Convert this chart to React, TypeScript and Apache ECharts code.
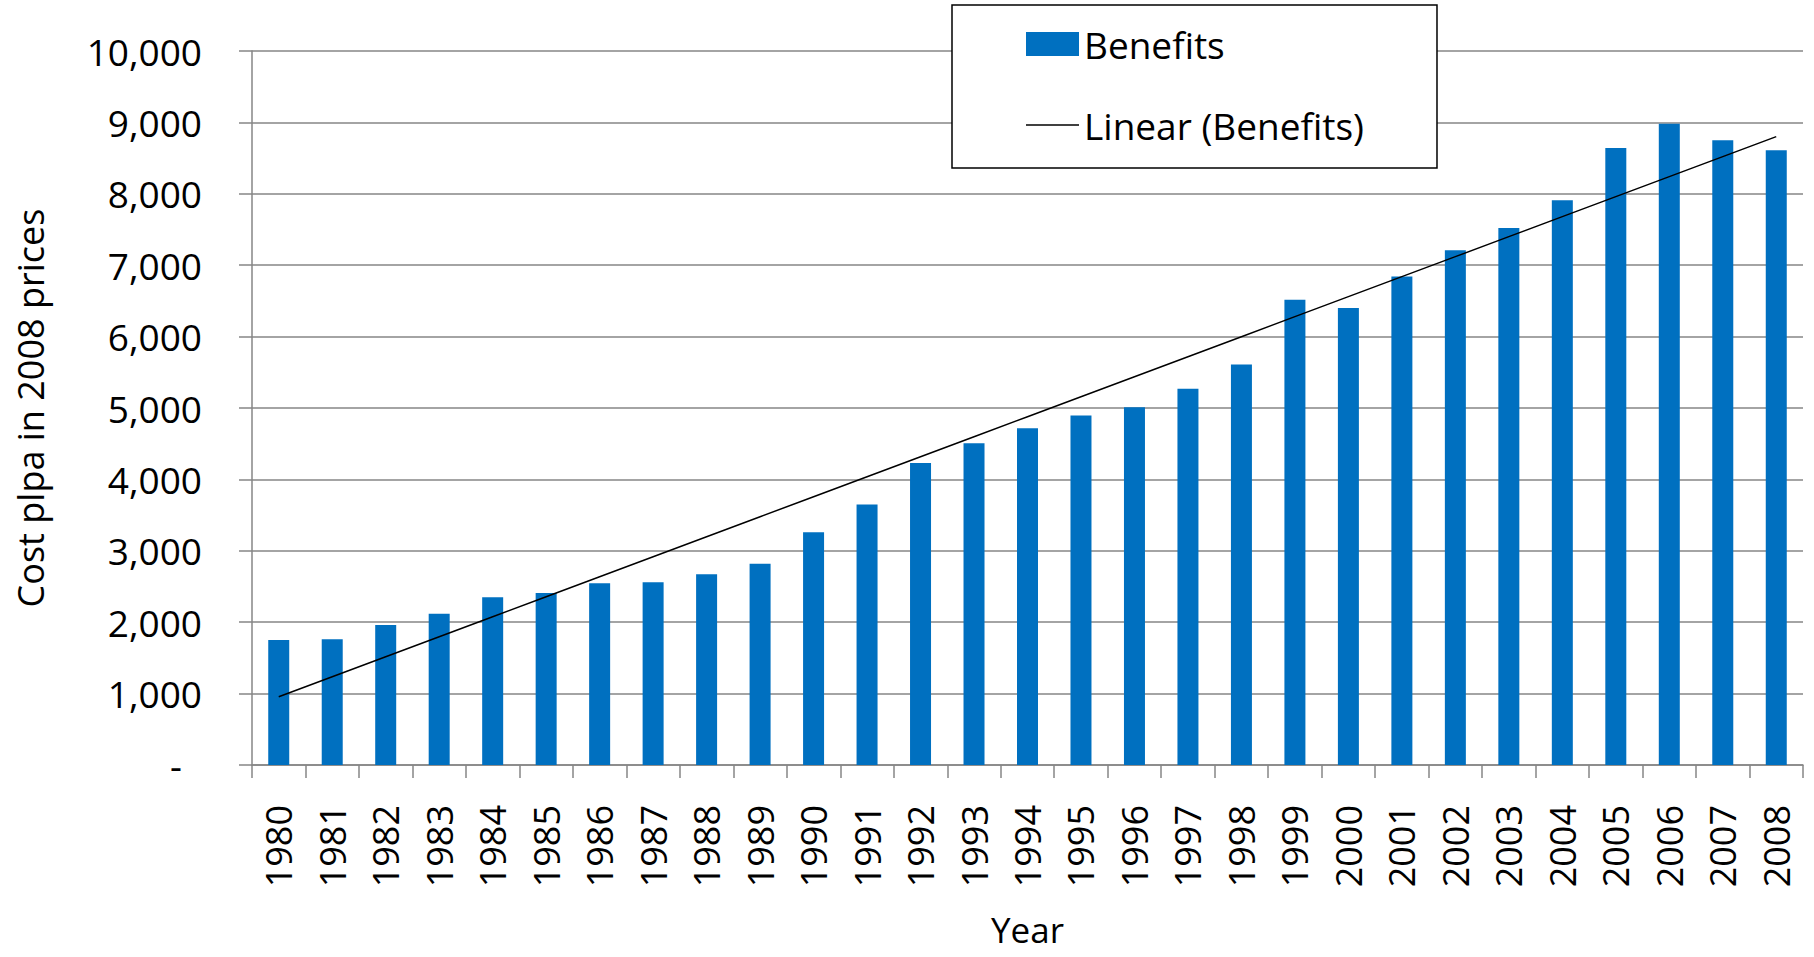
import React, { useEffect, useRef } from "react";
import * as echarts from "echarts";

const years = [
  "1980", "1981", "1982", "1983", "1984", "1985", "1986", "1987", "1988", "1989",
  "1990", "1991", "1992", "1993", "1994", "1995", "1996", "1997", "1998", "1999",
  "2000", "2001", "2002", "2003", "2004", "2005", "2006", "2007", "2008",
];

const benefits = [
  1750, 1760, 1960, 2120, 2350, 2410, 2545, 2560, 2670, 2820,
  3260, 3650, 4230, 4505, 4715, 4895, 5010, 5270, 5610, 6515,
  6400, 6840, 7210, 7520, 7910, 8640, 8980, 8750, 8610,
];

const yTicks = { min: 0, max: 10000, interval: 1000 };

const seriesNames = { bars: "Benefits", trend: "Linear (Benefits)" };

// Least-squares linear trend of the benefits series (as in an Excel trendline)
function linearTrend(values: number[]): number[] {
  const n = values.length;
  const mx = (n - 1) / 2;
  const my = values.reduce((a, b) => a + b, 0) / n;
  let sxy = 0;
  let sxx = 0;
  values.forEach((v, i) => {
    sxy += (i - mx) * (v - my);
    sxx += (i - mx) * (i - mx);
  });
  const slope = sxy / sxx;
  const intercept = my - slope * mx;
  return values.map((_, i) => Math.round((intercept + slope * i) * 10) / 10);
}

const FONT = "'Open Sans', 'Liberation Sans', sans-serif";

export default function App() {
  const ref = useRef<HTMLDivElement>(null);

  useEffect(() => {
    document.body.style.margin = "0";
    if (!ref.current) return;
    const chart = echarts.init(ref.current, undefined, { renderer: "svg" });
    const trend = linearTrend(benefits);
    chart.setOption({
      animation: false,
      backgroundColor: "#ffffff",
      textStyle: { fontFamily: FONT, color: "#000" },
      grid: {
        left: 252,
        right: 11,
        top: 51,
        bottom: 192,
        containLabel: false,
        outerBoundsMode: "none",
      },
      legend: {
        orient: "vertical",
        left: 952,
        top: 5,
        padding: [19, 73, 23, 74],
        itemGap: 41,
        itemWidth: 53,
        itemHeight: 24,
        borderColor: "#000",
        borderWidth: 1.5,
        backgroundColor: "#fff",
        textStyle: { fontFamily: FONT, fontSize: 37, lineHeight: 40, color: "#000" },
        data: [
          { name: seriesNames.bars, icon: "rect" },
          { name: seriesNames.trend, icon: "path://M0 0H100V3H0Z" },
        ],
      },
      xAxis: {
        type: "category",
        data: years,
        boundaryGap: true,
        name: "Year",
        nameLocation: "middle",
        nameGap: 147,
        nameTextStyle: { fontFamily: FONT, fontSize: 35, color: "#000" },
        axisLine: { show: true, lineStyle: { color: "#868686", width: 1.5 } },
        axisTick: { show: true, length: 13, lineStyle: { color: "#868686", width: 1.5 } },
        axisLabel: {
          rotate: 90,
          margin: 40,
          interval: 0,
          fontFamily: FONT,
          fontSize: 36,
          color: "#000",
        },
        splitLine: { show: false },
      },
      yAxis: {
        type: "value",
        min: yTicks.min,
        max: yTicks.max,
        interval: yTicks.interval,
        name: "Cost plpa in 2008 prices",
        nameLocation: "middle",
        nameRotate: 90,
        nameGap: 204,
        nameTextStyle: { fontFamily: FONT, fontSize: 36, color: "#000" },
        axisLine: { show: true, lineStyle: { color: "#868686", width: 1.5 } },
        axisTick: { show: true, length: 13, lineStyle: { color: "#868686", width: 1.5 } },
        axisLabel: {
          margin: 50,
          fontFamily: FONT,
          fontSize: 37,
          color: "#000",
          formatter: (v: number) =>
            v === 0 ? "{d|-}" : v.toLocaleString("en-US"),
          rich: {
            d: { fontFamily: FONT, fontSize: 37, color: "#000", padding: [0, 20, 0, 0] },
          },
        },
        splitLine: { show: true, lineStyle: { color: "#868686", width: 1.5 } },
      },
      series: [
        {
          name: seriesNames.bars,
          type: "bar",
          data: benefits,
          barWidth: 21,
          itemStyle: { color: "#0070C0" },
          z: 2,
        },
        {
          name: seriesNames.trend,
          type: "line",
          data: trend,
          symbol: "none",
          lineStyle: { color: "#000", width: 1.5 },
          itemStyle: { color: "#000" },
          z: 3,
        },
      ],
    });
    return () => chart.dispose();
  }, []);

  return <div ref={ref} style={{ width: 1814, height: 957 }} />;
}
